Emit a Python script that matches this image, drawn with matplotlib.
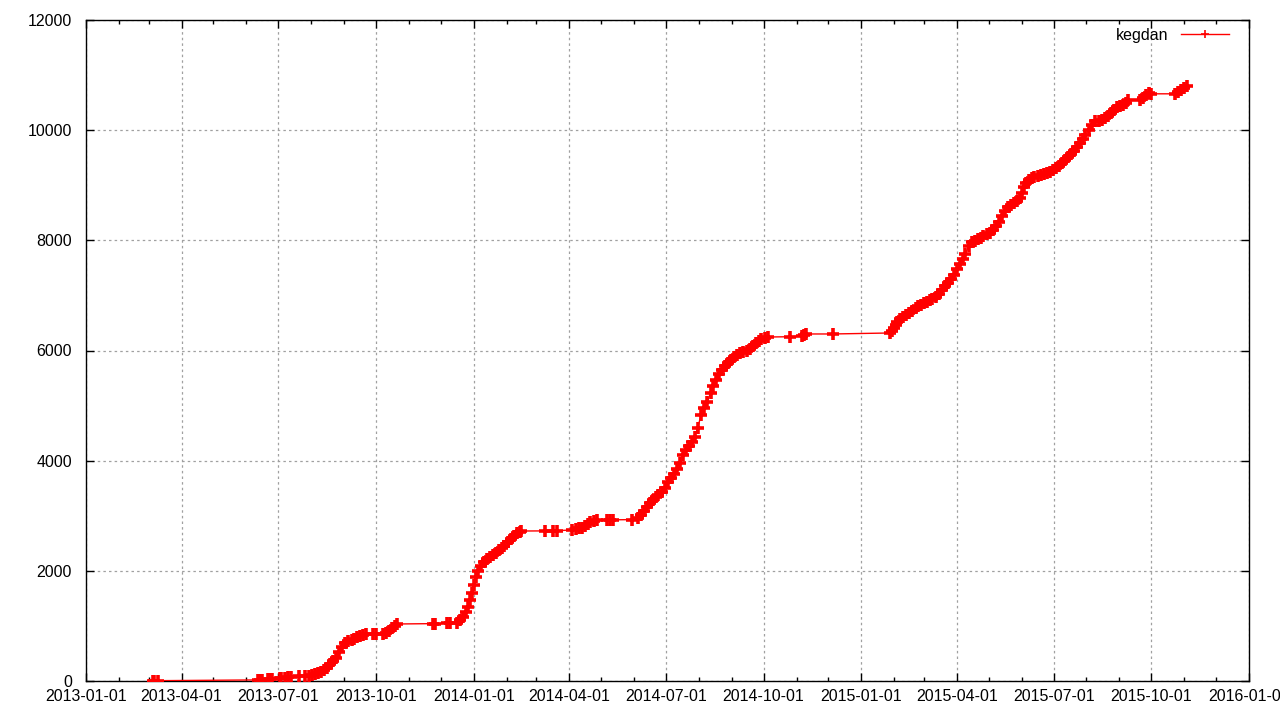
import datetime as dt
import matplotlib
matplotlib.use("Agg")
import matplotlib.pyplot as plt
import matplotlib.dates as mdates

start_date = "2013-01-01"
series_name = "kegdan"
# days since start_date, cumulative count
days = [63, 64, 68,
        162, 164, 166, 171, 173, 175, 183, 184, 187, 190, 193, 201, 206, 210,
        213, 216, 218, 221, 224, 227, 230, 233, 235, 238, 241, 244, 247, 250,
        252, 255, 258, 261, 264, 270, 273, 280, 282, 285, 288, 291, 293,
        327, 329, 340, 343, 349, 352, 355, 358, 360, 362, 363, 365, 367, 369,
        372, 375, 378, 380, 383, 386, 389, 392, 394, 397, 400, 403, 406, 409, 410,
        432, 440, 443, 458, 461, 464, 467, 470, 473, 475, 478, 481,
        491, 493, 496, 514, 520, 523, 525, 528, 531, 534, 537, 539, 542, 545,
        548, 551, 554, 556, 559, 562, 565, 568, 571, 573, 576, 579, 582, 585,
        588, 590, 593, 596, 599, 602, 604, 607, 610, 613, 616, 619, 622, 625,
        628, 631, 634, 636, 639, 642, 663, 674, 676, 678, 703,
        757, 759, 761, 763, 764, 766, 769, 772, 775, 778, 781, 783, 786, 789,
        792, 795, 797, 800, 803, 806, 809, 812, 814, 817, 820, 823, 826, 828,
        831, 834, 837, 840, 843, 845, 848, 851, 854, 857, 860, 862, 865, 868,
        871, 874, 877, 879, 881, 883, 885, 888, 891, 893, 896, 899, 902, 905,
        908, 910, 913, 916, 919, 922, 925, 927, 930, 933, 936, 939, 941, 944,
        947, 950, 954, 957, 959, 962, 965, 968, 971, 974, 976, 979, 981,
        992, 995, 998, 1001, 1003, 1025, 1028, 1031, 1034, 1037]
counts = [2, 4, 6,
          18, 20, 22, 36, 38, 40, 55, 58, 62, 72, 75, 90, 92, 95,
          110, 127, 145, 163, 200, 236, 309, 363, 418, 526, 617, 690, 726, 744,
          763, 799, 817, 835, 853, 853, 855, 860, 870, 908, 962, 998, 1035,
          1040, 1042, 1050, 1052, 1055, 1110, 1160, 1250, 1343, 1470, 1598, 1743, 1888, 1997,
          2088, 2160, 2215, 2251, 2287, 2324, 2378, 2415, 2450, 2524, 2578, 2632, 2687, 2705, 2723,
          2725, 2728, 2730, 2741, 2760, 2778, 2780, 2814, 2850, 2887, 2905, 2923,
          2925, 2926, 2927, 2930, 2960, 3014, 3086, 3159, 3232, 3286, 3340, 3377, 3431, 3504,
          3613, 3685, 3758, 3849, 3958, 4103, 4194, 4266, 4339, 4430, 4593, 4829, 4956, 5065,
          5229, 5356, 5465, 5574, 5646, 5719, 5773, 5828, 5882, 5919, 5955, 5973, 5991, 6027,
          6082, 6136, 6173, 6209, 6227, 6245, 6250, 6263, 6280, 6300, 6300,
          6318, 6354, 6409, 6463, 6518, 6572, 6609, 6645, 6681, 6717, 6772, 6808, 6826, 6863,
          6881, 6917, 6935, 6972, 7026, 7099, 7171, 7225, 7298, 7371, 7480, 7571, 7661, 7752,
          7897, 7970, 7988, 8025, 8043, 8079, 8115, 8134, 8188, 8260, 8333, 8442, 8533, 8606,
          8642, 8678, 8714, 8769, 8860, 8968, 9041, 9096, 9132, 9150, 9168, 9187, 9205, 9223,
          9241, 9277, 9313, 9350, 9404, 9459, 9513, 9568, 9622, 9695, 9767, 9840, 9913, 10003,
          10094, 10167, 10170, 10185, 10221, 10258, 10312, 10367, 10421, 10439, 10457, 10494, 10548,
          10550, 10585, 10640, 10675, 10660, 10660, 10694, 10730, 10766, 10802]

y_ticks = [0, 2000, 4000, 6000, 8000, 10000, 12000]
x_min, x_max = "2013-01-01", "2016-01-01"

plt.rcParams['font.family'] = ['Liberation Sans', 'DejaVu Sans']

t0 = dt.datetime.strptime(start_date, "%Y-%m-%d")
dates = [t0 + dt.timedelta(days=d) for d in days]

fig = plt.figure(figsize=(12.8, 7.2), dpi=100)
ax = fig.add_axes([86/1280, 39/720, (1249-86)/1280, (681-20)/720])

ax.plot(dates, counts, color='#ff0000', lw=1.0, marker='+', markersize=8.5,
        markeredgewidth=2.6, label=series_name, zorder=3)

ax.set_xlim(dt.datetime.strptime(x_min, "%Y-%m-%d"), dt.datetime.strptime(x_max, "%Y-%m-%d"))
ax.set_ylim(y_ticks[0], y_ticks[-1])
ax.set_yticks(y_ticks)
ax.xaxis.set_major_locator(mdates.MonthLocator(bymonth=[1, 4, 7, 10]))
ax.xaxis.set_minor_locator(mdates.MonthLocator())
ax.xaxis.set_major_formatter(mdates.DateFormatter("%Y-%m-%d"))

ax.grid(True, which='major', color='#a0a0a0', linestyle=(0, (2, 2.5)), lw=0.9, zorder=0)
ax.set_axisbelow(True)
ax.tick_params(which='major', direction='in', length=6, width=1, top=True, right=True,
               labelsize=11.5, colors='black')
ax.tick_params(which='minor', direction='in', length=3, width=1, top=True, right=False)
ax.tick_params(axis='y', which='minor', left=False, right=False)
ax.tick_params(axis='y', pad=10)
ax.tick_params(axis='x', pad=6)
for s in ax.spines.values():
    s.set_linewidth(1.0)
    s.set_color('black')

leg = ax.legend(loc='upper right', bbox_to_anchor=(0.9883, 0.9976), frameon=False,
                markerfirst=False, numpoints=1, handlelength=3.0, fontsize=11.5,
                borderaxespad=0.0, handletextpad=0.8)
for h in leg.legend_handles:
    h.set_markersize(6)
    h.set_markeredgewidth(1.2)

fig.savefig("out.png", dpi=100)
